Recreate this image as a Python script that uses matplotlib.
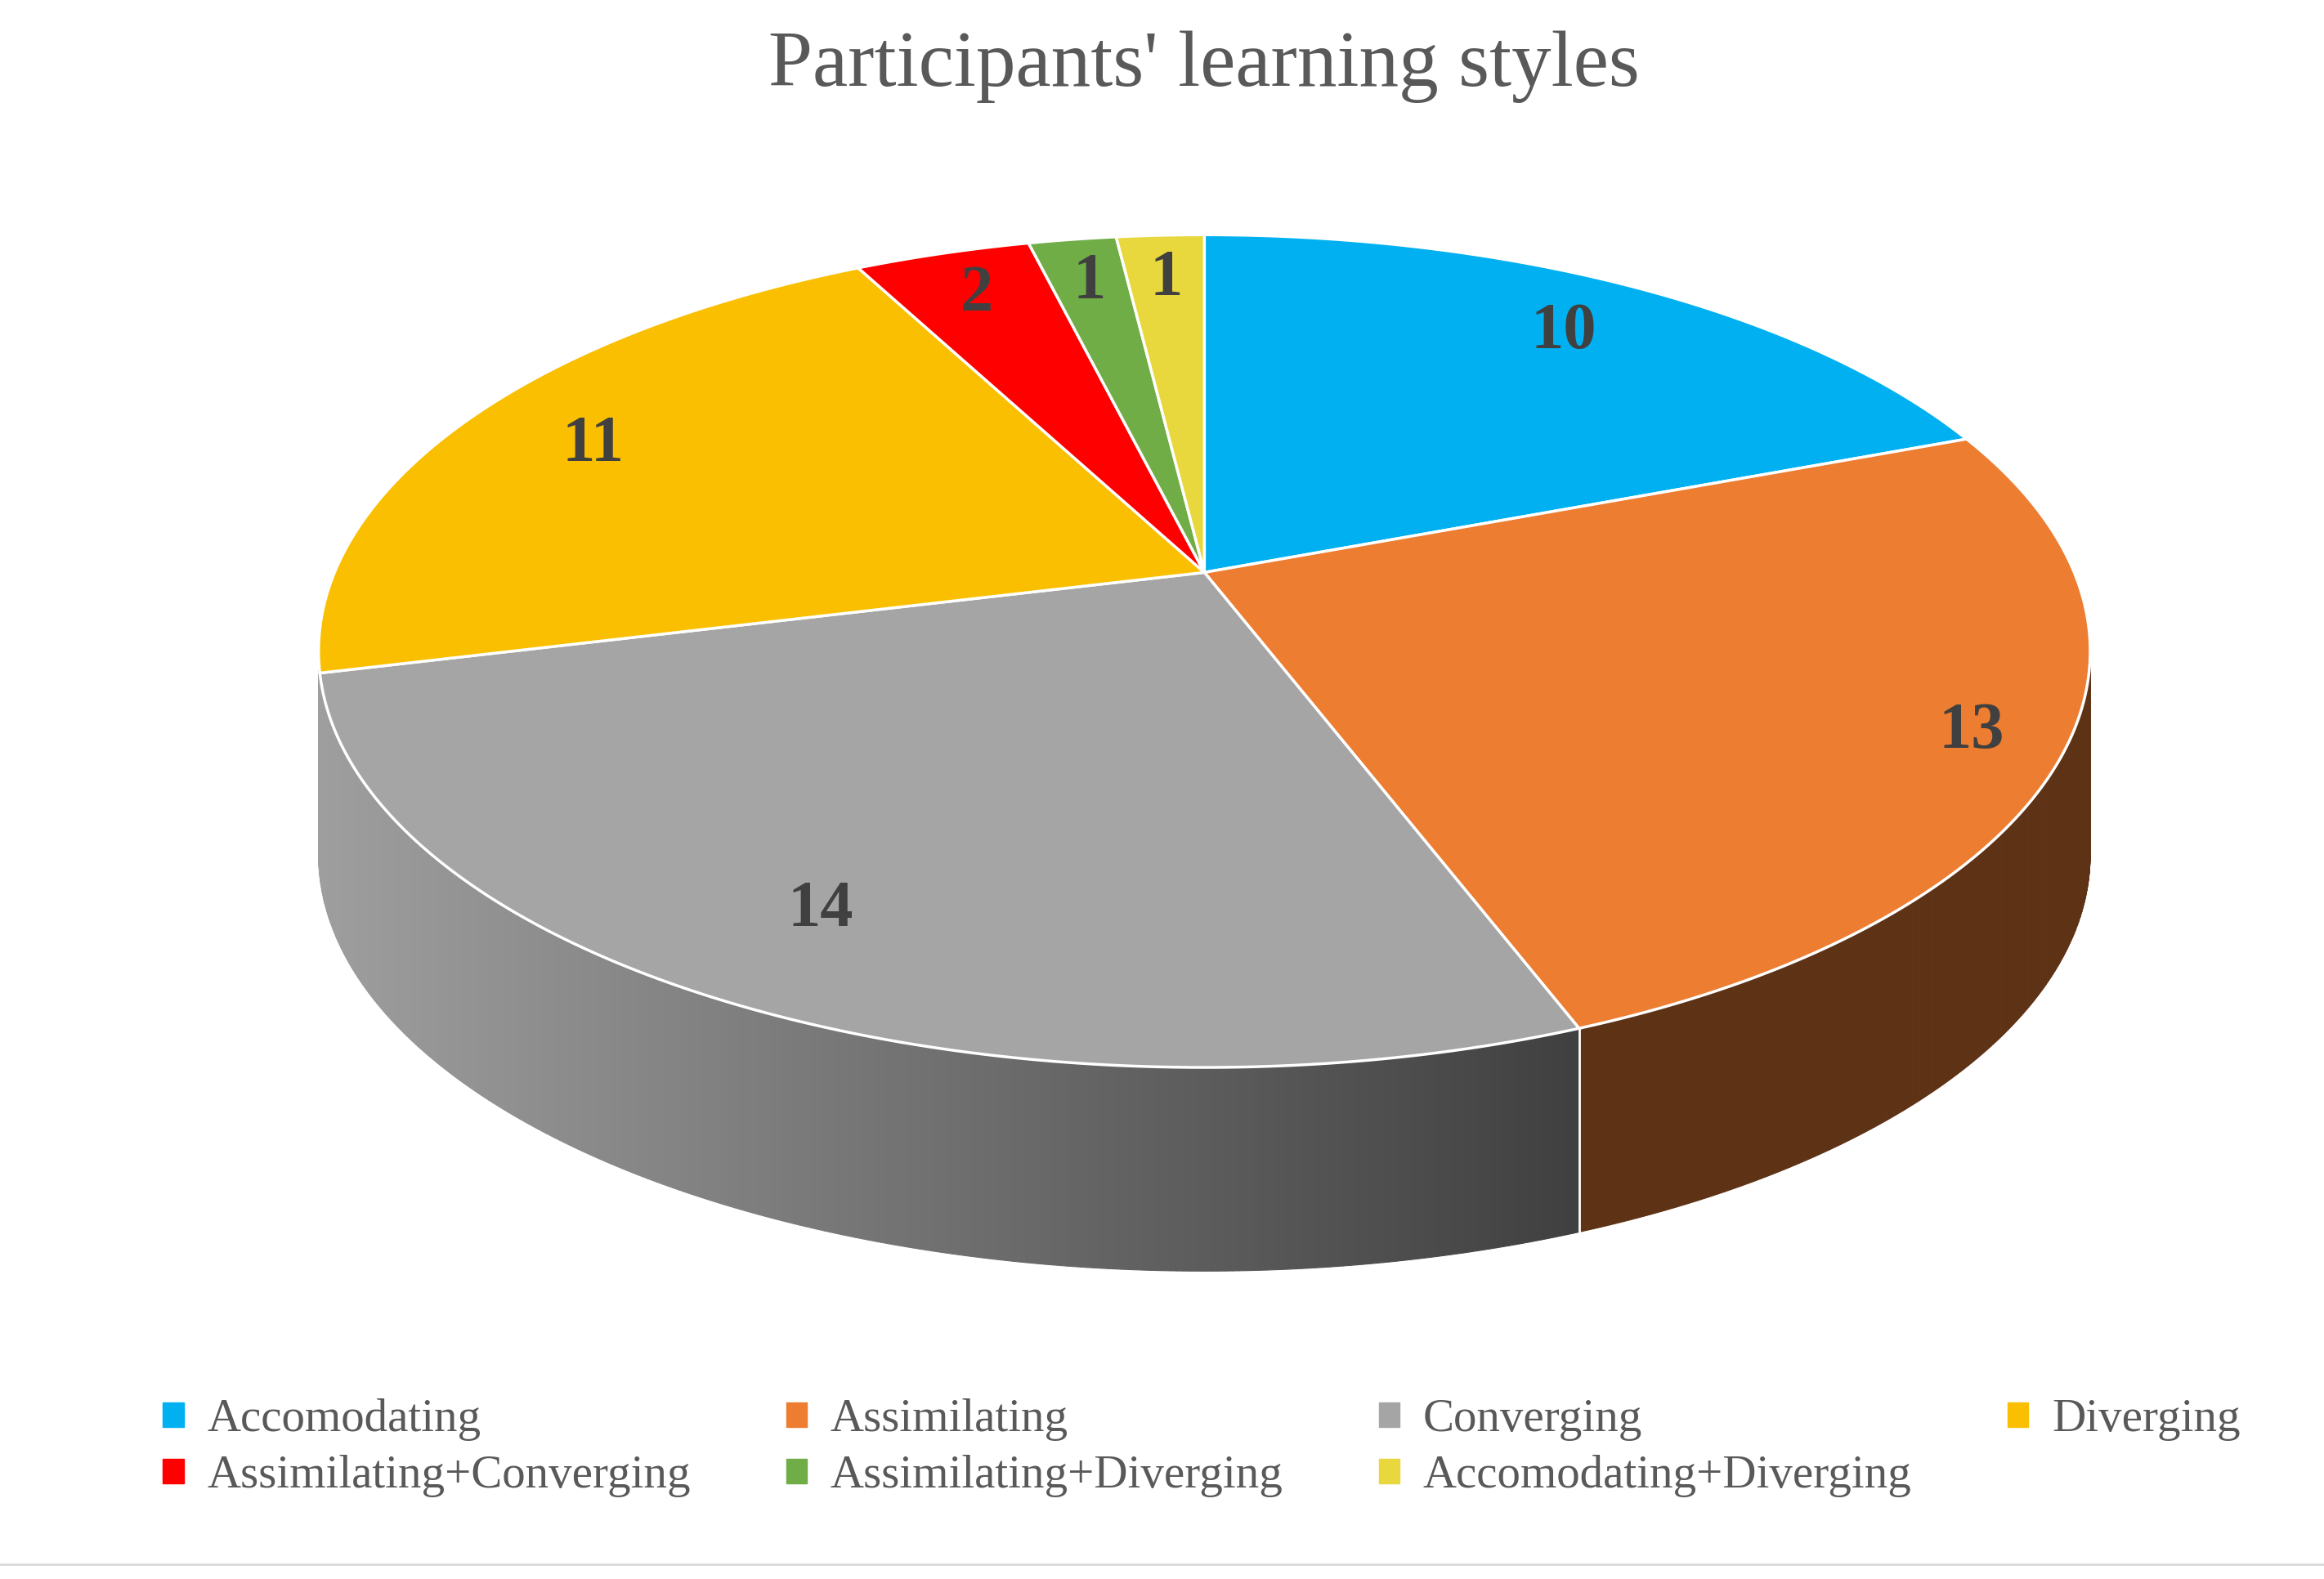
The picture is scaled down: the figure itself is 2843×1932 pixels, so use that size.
import matplotlib.pyplot as plt
import matplotlib.patches as mpatches
from matplotlib.patches import Polygon
import numpy as np

labels = ['Accomodating', 'Assimilating', 'Converging', 'Diverging',
          'Assimilating+Converging', 'Assimilating+Diverging', 'Accomodating+Diverging']
values = [10, 13, 14, 11, 2, 1, 1]
colors = ['#00B0F0', '#ED7D31', '#A5A5A5', '#F9BF00', '#FF0000', '#70AD47', '#E8D83E']

# geometry in 1563x1062 canvas units (y down)
W, H = 1563, 1062
CX, CY = 810, 385
RX, A, K = 585, 270, -0.189
DEPTH = 137


def proj(theta, r=1.0):
    c, s = r * np.cos(theta), -r * np.sin(theta)
    d = 1 + K * s
    return CX + RX * c / d, CY + A * s / d


fig = plt.figure(figsize=(28.43, 19.32), dpi=100)
ax = fig.add_axes([0, 0, 1, 1])
ax.set_xlim(0, W)
ax.set_ylim(H, 0)
ax.axis('off')

total = sum(values)
cum = np.concatenate([[0], np.cumsum(values)]) / total * 360
starts = np.radians(90 - cum[:-1])
ends = np.radians(90 - cum[1:])

# side walls (front half only), visible walls are Assimilating and Converging
for i in (1, 2):
    t0, t1 = ends[i], starts[i]
    a0, a1 = max(t0, -np.pi), min(t1, 0)
    if i == 2:
        a0 = -np.pi
    ts = np.linspace(a0, a1, 300)
    for j in range(len(ts) - 1):
        x0, y0 = proj(ts[j])
        x1, y1 = proj(ts[j + 1])
        if i == 2:
            f = np.clip((x0 - 215) / (1060 - 215), 0, 1)
            g = 0.62 - 0.37 * f
            col = (g, g, g)
        else:
            col = '#5E3215'
        ax.add_patch(Polygon([(x0, y0), (x1, y1), (x1, y1 + DEPTH), (x0, y0 + DEPTH)],
                             closed=True, facecolor=col, edgecolor=col, lw=0.8, zorder=1))
x, y = proj(starts[2])
ax.plot([x, x], [y, y + DEPTH], color='white', lw=2, zorder=2)

# top faces
for i in range(len(values)):
    ts = np.linspace(starts[i], ends[i], 200)
    pts = [(CX, CY)] + [proj(t) for t in ts]
    ax.add_patch(Polygon(pts, closed=True, facecolor=colors[i], edgecolor='white',
                         lw=2.5, zorder=3))
    mid = (starts[i] + ends[i]) / 2
    r = 0.9 if i == 1 else (0.82 if values[i] > 3 else 0.85)
    lx, ly = proj(mid, r)
    ax.text(lx, ly, str(values[i]), ha='center', va='center', fontsize=58,
            fontweight='bold', family='Liberation Serif', color='#404040', zorder=5)

ax.text(W / 2 + 28, 45, "Participants' learning styles", ha='center', va='center',
        fontsize=70, family='Liberation Serif', color='#595959')

ax.plot([0, W], [1052, 1052], color='#D9D9D9', lw=2)

# legend fills column-major, so reorder to read row-wise
order = [0, 4, 1, 5, 2, 6, 3]
handles = [mpatches.Patch(color=colors[k], label=labels[k]) for k in order]
leg = fig.legend(handles=handles, ncol=4, loc='lower left', mode='expand',
                 bbox_to_anchor=(0.052, 0.025, 0.93, 0.1), frameon=False,
                 prop={'family': 'Liberation Serif', 'size': 41},
                 handlelength=0.45, handleheight=0.45, handletextpad=0.5,
                 labelcolor='#595959', labelspacing=0.3)

fig.savefig('out.png', dpi=100)
